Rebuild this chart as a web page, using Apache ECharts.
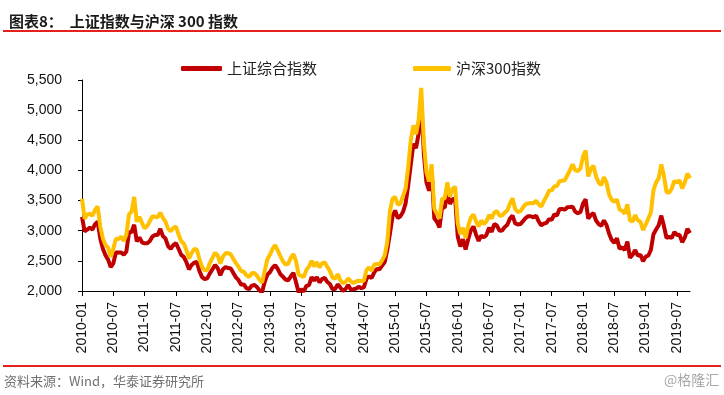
<!DOCTYPE html>
<html><head><meta charset="utf-8">
<script src="https://cdn.jsdelivr.net/npm/echarts@6/dist/echarts.min.js"></script>
<style>html,body{margin:0;padding:0;background:#fff}#c{width:724px;height:395px}</style>
</head><body><div id="c"></div>
<script>
// Half-monthly observations, Jan 2010 - Sep 2019 (two per month)
const startYear = 2010, endYear = 2019, endMonth = 9;
const tickLabels = ['2010-01','2010-07','2011-01','2011-07','2012-01','2012-07','2013-01','2013-07','2014-01','2014-07','2015-01','2015-07','2016-01','2016-07','2017-01','2017-07','2018-01','2018-07','2019-01','2019-07'];
const seriesNames = ['上证综合指数', '沪深300指数'];
const sse = [
 3230,2990, 3020,3051, 3020,3109, 3150,2870, 2700,2592, 2520,2398, 2460,2637, 2640,2638, 2600,2655, 2970,2978, 3100,2820, 2890,2808,
 2790,2790, 2830,2905, 2930,2928, 3030,2911, 2870,2743, 2700,2762, 2795,2701, 2600,2567, 2480,2359, 2430,2469, 2480,2333, 2230,2199,
 2210,2292, 2360,2428, 2380,2262, 2360,2396, 2380,2373, 2300,2225, 2180,2103, 2110,2047, 2030,2086, 2100,2069, 2010,1980, 2150,2269,
 2310,2385, 2430,2366, 2280,2237, 2190,2178, 2240,2301, 2150,1979, 2030,1994, 2085,2098, 2230,2175, 2230,2141, 2200,2220, 2150,2116,
 2030,2033, 2110,2056, 2000,2033, 2100,2026, 2030,2039, 2070,2048, 2060,2202, 2240,2217, 2310,2364, 2360,2420, 2480,2683, 2950,3235,
 3336,3210, 3240,3310, 3450,3748, 4100,4441, 4370,4612, 5166,4277, 3800,3664, 3990,3206, 3150,3053, 3390,3383, 3630,3445, 3520,3539,
 2900,2738, 2860,2688, 2860,3004, 3070,2938, 2830,2917, 2890,2930, 3050,2979, 3110,3085, 3000,3005, 3060,3100, 3200,3250, 3120,3104,
 3110,3159, 3210,3242, 3240,3223, 3250,3155, 3090,3117, 3130,3192, 3180,3273, 3250,3361, 3360,3349, 3390,3393, 3400,3317, 3290,3307,
 3450,3520, 3200,3259, 3290,3169, 3110,3082, 3170,3095, 2950,2847, 2800,2876, 2700,2725, 2680,2821, 2550,2603, 2680,2588, 2600,2494,
 2570,2585, 2680,2941, 3020,3091, 3250,3078, 2880,2898, 2880,2979, 2930,2932, 2810,2886, 3030,2960
];
const csi300 = [
 3530,3200, 3270,3281, 3250,3346, 3400,3068, 2870,2765, 2720,2564, 2700,2868, 2860,2903, 2830,2935, 3270,3316, 3560,3150, 3230,3128,
 3040,3077, 3160,3239, 3230,3223, 3300,3212, 3150,3031, 2990,3044, 3070,2937, 2830,2789, 2680,2537, 2630,2696, 2690,2530, 2400,2346,
 2350,2464, 2550,2634, 2590,2455, 2570,2626, 2630,2608, 2530,2462, 2400,2332, 2320,2262, 2230,2293, 2300,2254, 2190,2139, 2330,2523,
 2600,2697, 2760,2674, 2580,2495, 2440,2452, 2550,2613, 2500,2273, 2250,2232, 2350,2409, 2500,2409, 2480,2390, 2460,2477, 2400,2331,
 2220,2203, 2280,2178, 2130,2146, 2210,2159, 2130,2157, 2170,2165, 2170,2346, 2390,2338, 2440,2450, 2440,2508, 2590,2809, 3330,3533,
 3560,3434, 3450,3572, 3700,4052, 4500,4749, 4600,4840, 5370,4473, 3970,3816, 4100,3366, 3280,3202, 3530,3534, 3800,3566, 3690,3731,
 3120,2946, 3050,2878, 3080,3218, 3270,3156, 3070,3169, 3110,3154, 3260,3203, 3300,3327, 3250,3253, 3300,3336, 3450,3538, 3360,3310,
 3320,3387, 3440,3452, 3460,3456, 3500,3439, 3400,3492, 3570,3666, 3670,3737, 3740,3822, 3830,3837, 3920,4006, 4100,4006, 3990,4031,
 4230,4330, 3900,4023, 4080,3899, 3800,3756, 3890,3802, 3600,3510, 3480,3517, 3350,3335, 3280,3438, 3170,3153, 3260,3173, 3150,3011,
 3100,3201, 3300,3670, 3800,3872, 4100,3913, 3640,3630, 3700,3826, 3800,3835, 3700,3799, 3950,3870
];

const categories = [];
for (let y = startYear; y <= endYear; y++) {
  const lastM = (y === endYear) ? endMonth : 12;
  for (let m = 1; m <= lastM; m++) {
    const mm = (m < 10 ? '0' : '') + m;
    categories.push(y + '-' + mm + '-a');
    categories.push(y + '-' + mm + '-b');
  }
}
const tickSet = new Set(tickLabels);
const isTick = (idx) => { const c = categories[idx]; return c.endsWith('-a') && tickSet.has(c.slice(0, 7)); };

const chart = echarts.init(document.getElementById('c'), null, {renderer: 'canvas'});
const axisFont = 'Liberation Sans, Arial, sans-serif';
const cjkFont = '"Noto Sans CJK SC", sans-serif';
chart.setOption({
  animation: false,
  backgroundColor: '#fff',
  title: {
    text: '图表8：  上证指数与沪深 300 指数',
    left: 4, top: 9,
    textStyle: {fontFamily: cjkFont, fontSize: 15, fontWeight: 'bold', color: '#1a1a1a'}
  },
  graphic: [
    {type: 'rect', shape: {x: 3, y: 30, width: 718, height: 2}, style: {fill: '#e3231b'}},
    {type: 'rect', shape: {x: 3, y: 365, width: 718, height: 2}, style: {fill: '#e3231b'}},
    {type: 'text', left: 4, top: 375, style: {text: '资料来源：Wind，华泰证券研究所', fill: '#707070', font: '13px "Noto Sans CJK SC", sans-serif'}},
    {type: 'text', left: 664, top: 373, style: {text: '@格隆汇', fill: '#a8a8a8', font: '14px "Noto Sans CJK SC", sans-serif'}}
  ],
  legend: [
    {data: [seriesNames[0]], left: 176, top: 56, itemWidth: 41, itemHeight: 5, icon: 'roundRect',
     textStyle: {fontFamily: cjkFont, fontSize: 15, color: '#222'}, itemGap: 8},
    {data: [seriesNames[1]], left: 408, top: 56, itemWidth: 38, itemHeight: 5, icon: 'roundRect',
     textStyle: {fontFamily: cjkFont, fontSize: 15, color: '#222'}, itemGap: 8}
  ],
  grid: {left: 82, right: 34, top: 80, bottom: 104, containLabel: false},
  xAxis: {
    type: 'category', data: categories, boundaryGap: false,
    axisLine: {show: true, lineStyle: {color: '#000', width: 1}},
    axisTick: {show: true, inside: false, length: 5, interval: (i) => isTick(i), lineStyle: {color: '#000'}},
    axisLabel: {interval: (i) => isTick(i), rotate: 90, margin: 11, fontFamily: axisFont, fontSize: 14, color: '#111',
      formatter: (v) => v.slice(0, 7)},
    splitLine: {show: false}
  },
  yAxis: {
    type: 'value', min: 2000, max: 5500, interval: 500,
    axisLine: {show: true, lineStyle: {color: '#000', width: 1}},
    axisTick: {show: true, inside: false, length: 4, lineStyle: {color: '#000'}},
    axisLabel: {margin: 20, fontFamily: axisFont, fontSize: 14, color: '#111',
      formatter: (v) => v.toLocaleString('en-US')},
    splitLine: {show: false}
  },
  series: [
    {name: seriesNames[0], type: 'line', data: sse, symbol: 'none', clip: true,
     lineStyle: {color: '#c00000', width: 4}, itemStyle: {color: '#c00000'}},
    {name: seriesNames[1], type: 'line', data: csi300, symbol: 'none', clip: true,
     lineStyle: {color: '#ffc000', width: 4}, itemStyle: {color: '#ffc000'}}
  ]
});
</script></body></html>
